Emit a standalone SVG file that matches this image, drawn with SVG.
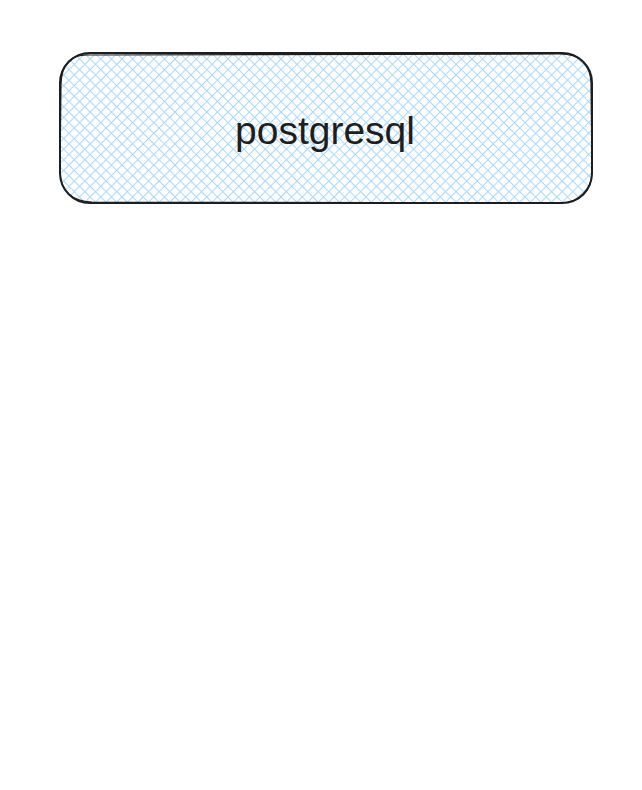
<svg xmlns="http://www.w3.org/2000/svg" width="642" height="790" viewBox="0 0 642 790">
<defs>
<pattern id="hatch" width="7.5" height="7.5" patternUnits="userSpaceOnUse" patternTransform="rotate(45)">
<line x1="0" y1="0" x2="0" y2="7.5" stroke="#a5d8ff" stroke-width="2"/>
<line x1="0" y1="0" x2="7.5" y2="0" stroke="#a5d8ff" stroke-width="2"/>
</pattern>
<style>
.box{fill:url(#hatch);stroke:#1e1e1e;stroke-width:2}
.lbl{font-family:"Liberation Sans",Arial,sans-serif;font-size:39px;fill:#1e1e1e;text-anchor:middle}
</style>
</defs>
<rect width="642" height="790" fill="#ffffff"/>
<g id="postgresql">
<rect class="box" x="60" y="53" width="532" height="150" rx="30" ry="30"/>
<path d="M90 55 Q62 53 61 84 L60 172 Q61 201 92 202 L560 203 Q591 202 592 172 L591 82 Q589 54 560 54 Z" fill="none" stroke="#1e1e1e" stroke-width="1.2"/>
<text class="lbl" x="325" y="144">postgresql</text>
</g>
<g id="connectors"></g>
</svg>
